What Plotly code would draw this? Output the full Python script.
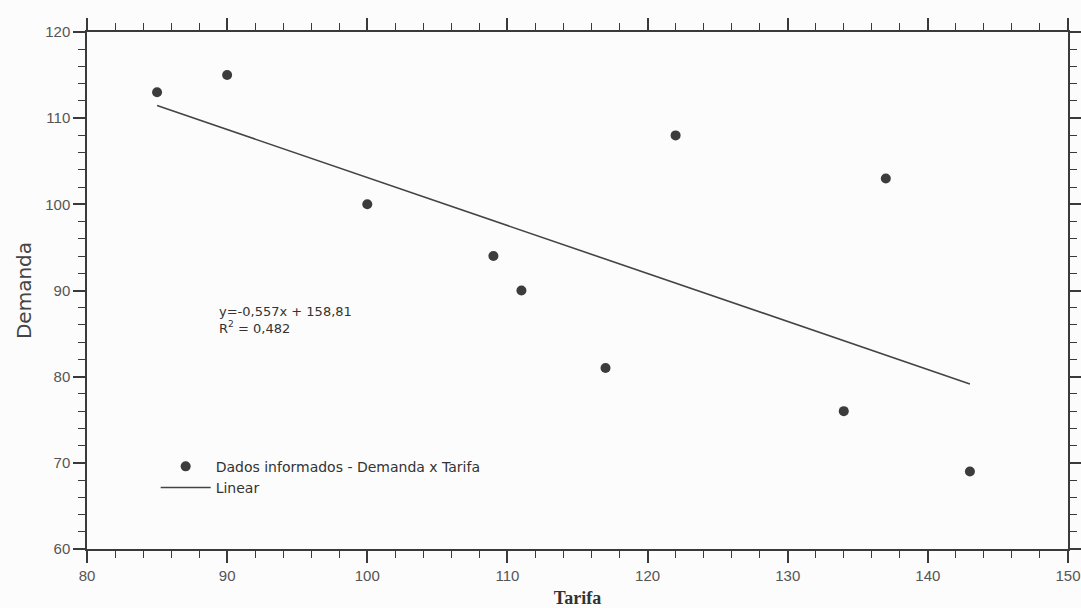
import plotly.graph_objects as go

# Data
tarifa = [85, 90, 100, 109, 111, 117, 122, 134, 137, 143]
demanda = [113, 115, 100, 94, 90, 81, 108, 76, 103, 69]

# Linear trend as stated on the chart: y = -0,557x + 158,81
slope = -0.557
intercept = 158.81
fit_x = [min(tarifa), max(tarifa)]
fit_y = [slope * v + intercept for v in fit_x]

x_ticks = [80, 90, 100, 110, 120, 130, 140, 150]
y_ticks = [60, 70, 80, 90, 100, 110, 120]

ink = "#3a3a3a"
tick_font = dict(family="Liberation Sans, Arial", size=15, color="#555555")

fig = go.Figure()
fig.add_trace(go.Scatter(
    x=tarifa, y=demanda, mode="markers",
    name="Dados informados - Demanda x Tarifa",
    marker=dict(size=10, color="#3c3c3c"),
))
fig.add_trace(go.Scatter(
    x=fit_x, y=fit_y, mode="lines", name="Linear",
    line=dict(color="#444444", width=1.6),
))

axis_common = dict(
    showgrid=False, zeroline=False, showline=True, linecolor=ink, linewidth=1.5,
    ticks="outside", ticklen=12, tickwidth=1.5, tickcolor=ink, mirror="allticks",
    tickfont=tick_font, automargin=False,
)

fig.update_xaxes(
    range=[80, 150], tickvals=x_ticks, ticktext=[str(v) for v in x_ticks],
    minor=dict(dtick=2, ticks="outside", ticklen=7, tickwidth=1.2, tickcolor=ink),
    title=dict(text="<b>Tarifa</b>", font=dict(family="Liberation Serif, Times New Roman", size=18, color="#333333"), standoff=12),
    **axis_common,
)
fig.update_yaxes(
    range=[60, 120], tickvals=y_ticks, ticktext=[str(v) for v in y_ticks],
    minor=dict(dtick=2, ticks="outside", ticklen=7, tickwidth=1.2, tickcolor=ink),
    title=dict(text="Demanda", font=dict(family="DejaVu Sans, Verdana", size=20, color="#444444"), standoff=8),
    **axis_common,
)

fig.add_annotation(
    x=89.3, y=86.6, xref="x", yref="y", xanchor="left", yanchor="middle",
    text="y=-0,557x + 158,81<br>R<sup>2</sup> = 0,482", align="left",
    showarrow=False, font=dict(family="DejaVu Sans, Verdana", size=13, color="#333333"),
)

fig.update_layout(
    width=1081, height=608,
    margin=dict(l=87, r=13, t=32, b=59),
    paper_bgcolor="#fcfcfc", plot_bgcolor="#fcfcfc",
    showlegend=True,
    legend=dict(
        x=0.07, y=0.19, xanchor="left", yanchor="top",
        bgcolor="rgba(0,0,0,0)", itemwidth=50,
        font=dict(family="DejaVu Sans, Verdana", size=14, color="#333333"),
    ),
)

fig.write_html("out.html")
